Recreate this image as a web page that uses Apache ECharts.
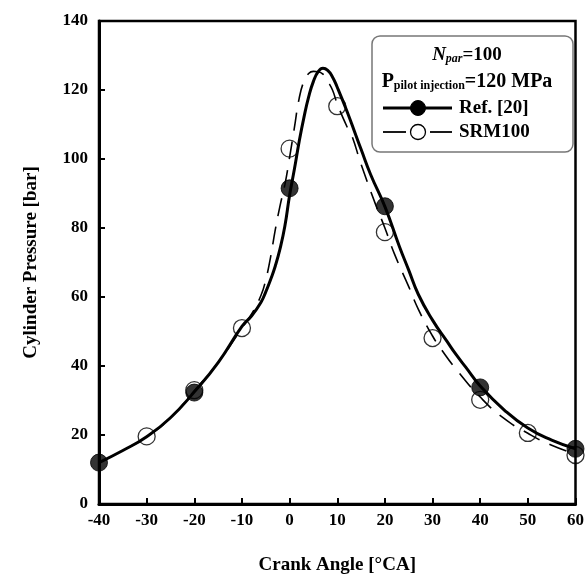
<!DOCTYPE html>
<html>
<head>
<meta charset="utf-8">
<script src="https://cdn.jsdelivr.net/npm/echarts@6/dist/echarts.min.js"></script>
<style>html,body{margin:0;padding:0;background:#fff;}#c{width:587px;height:582px;}</style>
</head>
<body>
<div id="c"></div>
<script>
// Ref. [20] curve (crank angle, pressure)
const refCurveX = [-40,-35,-30,-25,-20,-15,-10,-8,-6,-5,-4,-3,-2,-1,0,1,2,3,4,5,6,7,8,9,10,12,14,15,17,20,23,25,27,30,33,35,37,40,45,50,55,60];
const refCurveY = [12,15.5,19.5,25,32.5,41,51.5,54.5,58.5,61.5,65,69,74,80.5,89.5,97,105,112,118,122.5,125.3,126.3,125.7,123.8,120.8,114,106.5,102.8,95.5,86.2,74.8,67.8,60.8,53.3,47.2,43.2,39.6,34.2,27.3,22,18.5,16];
// Ref. [20] markers
const refMarkX = [-40,-20,0,20,40,60];
const refMarkY = [12,32.3,91.5,86.3,33.8,16];
// SRM100 curve
const srmCurveX = [-40,-35,-30,-25,-20,-15,-10,-8,-6,-5,-4,-3,-2,-1,0,1,2,3,4,5,6,7,8,9,10,12,13,15,18,20,22,25,27,30,32,35,40,45,50,55,60];
const srmCurveY = [12,15.5,19.5,25,32.8,41,51,55,60.5,65,71.5,79.5,86.5,92.5,100.5,109,117.5,122.5,124.8,125.4,125.3,124.6,122.5,120,116,109.5,107,98.5,87,80,72.5,63,56.5,48.7,44.5,39,31,24.8,20.5,17,14.5];
// SRM100 markers
const srmMarkX = [-30,-20,-10,0,10,20,30,40,50,60];
const srmMarkY = [19.6,33,51,103,115.3,78.8,48.1,30.2,20.6,14.2];
// Axis ticks
const xTicks = [-40,-30,-20,-10,0,10,20,30,40,50,60];
const yTicks = [0,20,40,60,80,100,120,140];

const zip = (a,b)=>a.map((v,i)=>[v,b[i]]);
const FONT = 'Liberation Serif';
const chart = echarts.init(document.getElementById('c'));
chart.setOption({
  animation:false,
  backgroundColor:'#fff',
  grid:{left:99,right:9,top:21,bottom:78,show:true,borderColor:'#000',borderWidth:2.5,backgroundColor:'transparent'},
  xAxis:{type:'value',min:xTicks[0],max:xTicks[xTicks.length-1],interval:10,
    name:'Crank Angle [°CA]',nameLocation:'middle',nameGap:52,
    nameTextStyle:{fontFamily:FONT,fontWeight:'bold',fontSize:19,color:'#000'},
    axisLine:{show:true,onZero:false,lineStyle:{color:'#000',width:3}},
    axisTick:{show:true,inside:true,length:6,lineStyle:{color:'#000',width:2}},
    axisLabel:{fontFamily:FONT,fontWeight:'bold',fontSize:17,color:'#000',margin:8},
    splitLine:{show:false}},
  yAxis:{type:'value',min:yTicks[0],max:yTicks[yTicks.length-1],interval:20,
    name:'Cylinder Pressure [bar]',nameLocation:'middle',nameGap:58,
    nameTextStyle:{fontFamily:FONT,fontWeight:'bold',fontSize:19,color:'#000'},
    axisLine:{show:true,onZero:false,lineStyle:{color:'#000',width:3}},
    axisTick:{show:true,inside:true,length:6,lineStyle:{color:'#000',width:2}},
    axisLabel:{fontFamily:FONT,fontWeight:'bold',fontSize:17,color:'#000',margin:11},
    splitLine:{show:false}},
  series:[
    {type:'line',name:'Ref. [20]',data:zip(refCurveX,refCurveY),smooth:0.5,showSymbol:false,
      lineStyle:{color:'#000',width:3},z:3},
    {type:'line',name:'SRM100',data:zip(srmCurveX,srmCurveY),smooth:0.5,showSymbol:false,
      lineStyle:{color:'#000',width:1.6,type:[18,11]},z:2},
    {type:'scatter',name:'Ref. [20] pts',data:zip(refMarkX,refMarkY),symbol:'circle',symbolSize:17,
      itemStyle:{color:'#000',borderColor:'#000',borderWidth:1},z:5},
    {type:'scatter',name:'SRM100 pts',data:zip(srmMarkX,srmMarkY),symbol:'circle',symbolSize:17,
      itemStyle:{color:'transparent',borderColor:'#000',borderWidth:1.3},z:6}
  ],
  graphic:[
    {type:'rect',shape:{x:372,y:36,width:201,height:116,r:8},style:{fill:'#fff',stroke:'#777',lineWidth:1.5},z:10},
    {type:'text',x:467,y:55,style:{rich:{n:{fontFamily:FONT,fontStyle:'italic',fontWeight:'bold',fontSize:19},s:{fontFamily:FONT,fontStyle:'italic',fontWeight:'bold',fontSize:12,padding:[8,0,0,0]},t:{fontFamily:FONT,fontWeight:'bold',fontSize:19}},
      text:'{n|N}{s|par}{t|=100}',align:'center',verticalAlign:'middle',fill:'#000'},z:11},
    {type:'text',x:467,y:82,style:{rich:{n:{fontFamily:FONT,fontWeight:'bold',fontSize:20},s:{fontFamily:FONT,fontWeight:'bold',fontSize:12,padding:[8,0,0,0]},t:{fontFamily:FONT,fontWeight:'bold',fontSize:20}},
      text:'{n|P}{s|pilot injection}{t|=120 MPa}',align:'center',verticalAlign:'middle',fill:'#000'},z:11},
    {type:'line',shape:{x1:383,y1:108,x2:452,y2:108},style:{stroke:'#000',lineWidth:3},z:11},
    {type:'circle',shape:{cx:418,cy:108,r:7.5},style:{fill:'#000',stroke:'#000'},z:12},
    {type:'text',x:459,y:108,style:{text:'Ref. [20]',fontFamily:FONT,fontWeight:'bold',fontSize:19,fill:'#000',verticalAlign:'middle'},z:11},
    {type:'line',shape:{x1:383,y1:132,x2:406,y2:132},style:{stroke:'#000',lineWidth:1.8},z:11},
    {type:'line',shape:{x1:430,y1:132,x2:452,y2:132},style:{stroke:'#000',lineWidth:1.8},z:11},
    {type:'circle',shape:{cx:418,cy:132,r:7.5},style:{fill:'#fff',stroke:'#000',lineWidth:1.3},z:12},
    {type:'text',x:459,y:132,style:{text:'SRM100',fontFamily:FONT,fontWeight:'bold',fontSize:19,fill:'#000',verticalAlign:'middle'},z:11}
  ]
});
</script>
</body>
</html>
